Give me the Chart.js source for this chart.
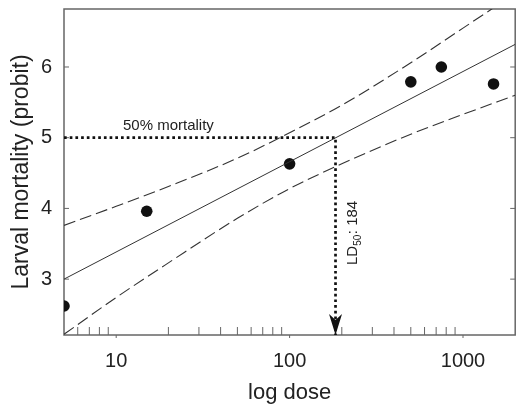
<!DOCTYPE html>
<html>
<head>
<meta charset="utf-8">
<script src="https://cdn.jsdelivr.net/npm/chart.js@4/dist/chart.umd.min.js"></script>
<style>
  html, body { margin: 0; padding: 0; background: #fff; }
  #wrap { width: 521px; height: 406px; }
</style>
</head>
<body>
<div id="wrap"><canvas id="probitChart" width="521" height="406"></canvas></div>
<script>
// observed larval mortality (probit) per dose
const xDose = [5, 15, 100, 500, 750, 1500];
const yProbit = [2.62, 3.96, 4.63, 5.79, 6.0, 5.76];

// fitted probit line
const fitDose = [5, 2000];
const fitProbit = [3.0, 6.32];

// confidence limits
const bandDose = [5, 10, 20, 50, 100, 200, 500, 1000, 2000];
const upperProbit = [3.76, 4.03, 4.31, 4.71, 5.07, 5.46, 6.06, 6.55, 7.04];
const lowerProbit = [2.22, 2.74, 3.23, 3.86, 4.28, 4.63, 5.05, 5.33, 5.60];

// LD50 guide lines
const ld50 = 184;
const refDose = [5, ld50, ld50];
const refProbit = [5, 5, 2.21];

const yTicks = [3, 4, 5, 6];
const xTicks = [10, 100, 1000];
const xMinorTicks = [6, 7, 8, 9, 20, 30, 40, 50, 60, 70, 80, 90, 200, 300, 400, 500, 600, 700, 800, 900];

const FONT = "'Liberation Sans', Arial, sans-serif";
const INK = '#222';

const toPts = (xs, ys) => xs.map((x, i) => ({ x: x, y: ys[i] }));

const boxPlugin = {
    id: 'box',
    beforeDatasetsDraw(chart) {
        const { ctx, chartArea: a, scales: { x, y } } = chart;
        ctx.save();
        ctx.strokeStyle = '#666';
        ctx.lineWidth = 1.5;
        ctx.strokeRect(a.left, a.top, a.right - a.left, a.bottom - a.top);
        ctx.lineWidth = 1;
        ctx.beginPath();
        yTicks.forEach(v => {
            const py = y.getPixelForValue(v);
            ctx.moveTo(a.left, py); ctx.lineTo(a.left + 5, py);
            ctx.moveTo(a.right, py); ctx.lineTo(a.right - 5, py);
        });
        xMinorTicks.forEach(v => {
            const px = x.getPixelForValue(v);
            ctx.moveTo(px, a.bottom); ctx.lineTo(px, a.bottom - 8);
        });
        xTicks.forEach(v => {
            const px = x.getPixelForValue(v);
            ctx.moveTo(px, a.bottom); ctx.lineTo(px, a.bottom + 3);
        });
        ctx.stroke();
        ctx.restore();
    },
    afterDatasetsDraw(chart) {
        const { ctx, chartArea: a, scales: { x, y } } = chart;
        const ax = x.getPixelForValue(ld50);
        ctx.save();
        // arrow head
        ctx.fillStyle = '#111';
        ctx.beginPath();
        ctx.moveTo(ax, a.bottom);
        ctx.lineTo(ax - 6.5, a.bottom - 21);
        ctx.lineTo(ax, a.bottom - 15);
        ctx.lineTo(ax + 6.5, a.bottom - 21);
        ctx.closePath();
        ctx.fill();

        // 50% mortality label
        ctx.fillStyle = INK;
        ctx.font = '15px ' + FONT;
        ctx.textAlign = 'center';
        ctx.textBaseline = 'alphabetic';
        ctx.fillText('50% mortality', x.getPixelForValue(20), y.getPixelForValue(5) - 7.5);

        // LD50 label, rotated
        ctx.translate(ax + 21.5, y.getPixelForValue(3.2));
        ctx.rotate(-Math.PI / 2);
        ctx.textAlign = 'left';
        ctx.font = '15px ' + FONT;
        ctx.fillText('LD', 0, 0);
        const w1 = ctx.measureText('LD').width;
        ctx.font = '10px ' + FONT;
        ctx.fillText('50', w1, 4);
        const w2 = ctx.measureText('50').width;
        ctx.font = '15px ' + FONT;
        ctx.fillText(': 184', w1 + w2 + 0.5, 0);
        ctx.restore();
    }
};

const ctx = document.getElementById('probitChart').getContext('2d');
const probitChart = new Chart(ctx, {
    type: 'scatter',
    data: {
        datasets: [
            {
                label: 'upper limit',
                data: toPts(bandDose, upperProbit),
                showLine: true,
                borderColor: '#333',
                borderWidth: 1.1,
                borderDash: [12, 5],
                pointRadius: 0,
                cubicInterpolationMode: 'monotone'
            },
            {
                label: 'lower limit',
                data: toPts(bandDose, lowerProbit),
                showLine: true,
                borderColor: '#333',
                borderWidth: 1.1,
                borderDash: [12, 5],
                pointRadius: 0,
                cubicInterpolationMode: 'monotone'
            },
            {
                label: 'probit fit',
                data: toPts(fitDose, fitProbit),
                showLine: true,
                borderColor: '#333',
                borderWidth: 1,
                pointRadius: 0
            },
            {
                label: 'LD50',
                data: toPts(refDose, refProbit),
                showLine: true,
                borderColor: '#111',
                borderWidth: 2.7,
                borderDash: [2.7, 3],
                pointRadius: 0
            },
            {
                label: 'observed',
                data: toPts(xDose, yProbit),
                showLine: false,
                pointRadius: 5.8,
                pointBackgroundColor: '#111',
                pointBorderWidth: 0
            }
        ]
    },
    options: {
        responsive: false,
        animation: false,
        layout: { padding: { top: 9, right: 4, left: 0, bottom: 0 } },
        plugins: {
            legend: { display: false },
            tooltip: { enabled: false }
        },
        scales: {
            x: {
                type: 'logarithmic',
                min: 5, max: 2000,
                afterBuildTicks: s => { s.ticks = xTicks.map(v => ({ value: v })); },
                afterFit: s => { s.height = 71; s.paddingLeft = 0; s.paddingRight = 0; },
                grid: { display: false, drawTicks: false },
                border: { display: false },
                ticks: {
                    padding: 14,
                    color: INK,
                    font: { family: FONT, size: 20 },
                    maxRotation: 0,
                    callback: v => String(v)
                },
                title: {
                    display: true,
                    text: 'log dose',
                    color: INK,
                    font: { family: FONT, size: 22 },
                    padding: { top: 0, bottom: 0 }
                }
            },
            y: {
                min: 2.21, max: 6.82,
                afterBuildTicks: s => { s.ticks = yTicks.map(v => ({ value: v })); },
                afterFit: s => { s.width = 64; s.paddingTop = 0; s.paddingBottom = 0; },
                grid: { display: false, drawTicks: false },
                border: { display: false },
                ticks: {
                    padding: 12,
                    color: INK,
                    font: { family: FONT, size: 20 }
                },
                title: {
                    display: true,
                    text: 'Larval mortality (probit)',
                    color: INK,
                    font: { family: FONT, size: 23 },
                    padding: { top: 8, bottom: 0 }
                }
            }
        }
    },
    plugins: [boxPlugin]
});
</script>
</body>
</html>
